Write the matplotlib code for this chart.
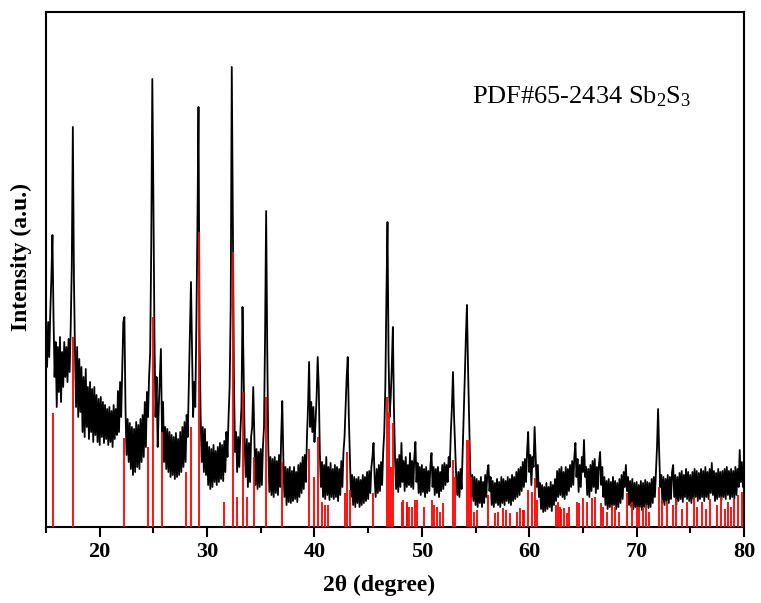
import numpy as np
import matplotlib
matplotlib.use("Agg")
import matplotlib.pyplot as plt
from matplotlib.ticker import MultipleLocator

# ---- data (intensity in arbitrary units) ----
two_theta_start = 15.0
two_theta_step = 0.1

intensity = [
    # 15.0 - 15.9
    195, 160, 205, 170, 215, 250, 292, 210, 150, 185,
    # 16
    120, 180, 135, 190, 125, 175, 140, 185, 150, 180,
    # 17
    145, 188, 155, 200, 260, 400, 250, 175, 120, 180,
    # 18
    110, 168, 115, 160, 95, 150, 90, 158, 100, 140,
    # 19
    88, 145, 95, 138, 85, 140, 92, 132, 85, 128,
    # 20
    82, 130, 90, 125, 84, 122, 88, 118, 82, 120,
    # 21
    85, 116, 80, 122, 88, 118, 92, 136, 95, 145,
    # 22
    110, 160, 205, 210, 120, 72, 108, 65, 104, 58,
    # 23
    100, 52, 98, 55, 105, 60, 102, 58, 108, 65,
    # 24
    112, 70, 125, 80, 135, 110, 150, 175, 280, 448,
    # 25
    330, 190, 110, 150, 80, 120, 150, 178, 95, 125,
    # 26
    65, 100, 58, 98, 55, 95, 50, 92, 52, 90,
    # 27
    48, 94, 50, 88, 52, 95, 55, 100, 60, 105,
    # 28
    65, 112, 90, 140, 190, 245, 175, 110, 145, 120,
    # 29
    200, 300, 420, 190, 110, 65, 100, 55, 98, 52,
    # 30
    85, 42, 80, 38, 78, 40, 82, 45, 76, 42,
    # 31
    80, 45, 84, 48, 82, 46, 86, 55, 95, 70,
    # 32
    110, 140, 220, 460, 300, 150, 75, 95, 55, 90,
    # 33
    60, 95, 120, 220, 160, 85, 50, 88, 40, 84,
    # 34
    45, 90, 100, 140, 90, 42, 78, 38, 75, 40,
    # 35
    78, 42, 80, 100, 190, 316, 180, 80, 35, 70,
    # 36
    32, 68, 30, 70, 34, 66, 32, 72, 40, 90,
    # 37
    126, 70, 30, 60, 22, 58, 25, 60, 24, 56,
    # 38
    26, 60, 28, 55, 25, 62, 30, 64, 34, 70,
    # 39
    38, 72, 45, 90, 120, 165, 100, 125, 95, 120,
    # 40
    85, 105, 130, 170, 140, 75, 40, 65, 30, 62,
    # 41
    28, 70, 32, 60, 27, 64, 30, 58, 28, 62,
    # 42
    30, 60, 26, 58, 32, 66, 40, 75, 90, 120,
    # 43
    150, 170, 110, 70, 30, 52, 22, 50, 20, 48,
    # 44
    24, 50, 20, 47, 22, 52, 24, 50, 26, 55,
    # 45
    28, 56, 34, 60, 70, 84, 50, 30, 58, 34,
    # 46
    62, 36, 65, 42, 75, 95, 140, 230, 305, 170,
    # 47
    110, 130, 160, 200, 120, 70, 38, 68, 35, 72,
    # 48
    40, 84, 45, 66, 36, 70, 40, 62, 42, 74,
    # 49
    40, 66, 38, 70, 85, 45, 64, 34, 60, 32,
    # 50
    62, 35, 58, 30, 60, 34, 56, 36, 62, 74,
    # 51
    40, 60, 32, 58, 34, 60, 30, 55, 36, 62,
    # 52
    38, 64, 42, 62, 45, 70, 60, 95, 120, 155,
    # 53
    110, 80, 50, 32, 55, 30, 58, 38, 75, 110,
    # 54
    150, 190, 222, 160, 110, 60, 30, 52, 26, 50,
    # 55
    22, 48, 20, 46, 24, 50, 20, 45, 24, 52,
    # 56
    30, 55, 62, 36, 50, 22, 46, 20, 44, 24,
    # 57
    48, 22, 45, 20, 50, 24, 48, 22, 46, 26,
    # 58
    50, 24, 48, 22, 52, 26, 50, 28, 55, 30,
    # 59
    58, 32, 60, 36, 65, 40, 68, 45, 75, 95,
    # 60
    55, 72, 42, 70, 60, 100, 70, 40, 62, 30,
    # 61
    44, 18, 42, 15, 40, 16, 44, 18, 40, 20,
    # 62
    45, 16, 42, 22, 48, 26, 56, 30, 58, 32,
    # 63
    60, 30, 55, 28, 60, 32, 58, 36, 62, 40,
    # 64
    66, 42, 70, 84, 50, 68, 35, 62, 40, 70,
    # 65
    55, 87, 50, 60, 32, 58, 30, 62, 36, 66,
    # 66
    40, 68, 34, 60, 38, 64, 75, 42, 60, 30,
    # 67
    50, 22, 46, 18, 48, 20, 45, 18, 50, 22,
    # 68
    46, 18, 44, 20, 48, 24, 52, 28, 55, 40,
    # 69
    62, 36, 50, 22, 46, 20, 48, 18, 44, 20,
    # 70
    45, 18, 42, 20, 46, 17, 44, 20, 47, 22,
    # 71
    45, 19, 44, 20, 48, 24, 50, 30, 55, 80,
    # 72
    118, 75, 40, 52, 24, 50, 22, 48, 26, 52,
    # 73
    24, 50, 28, 55, 62, 30, 52, 22, 50, 26,
    # 74
    54, 28, 56, 25, 52, 30, 58, 28, 55, 26,
    # 75
    52, 24, 55, 28, 58, 30, 56, 26, 54, 28,
    # 76
    58, 30, 56, 26, 60, 30, 55, 28, 58, 34,
    # 77
    64, 32, 56, 26, 54, 28, 58, 30, 55, 27,
    # 78
    56, 30, 58, 28, 60, 32, 56, 28, 58, 30,
    # 79
    56, 28, 60, 32, 58, 40, 77, 45, 65, 40,
    # 80.0
    60,
]

# reference pattern PDF#65-2434 (positions and relative heights)
ref_pos = [15.62, 17.49, 22.26, 24.47, 24.96, 25.77, 28.04, 28.53, 29.25,
           31.62, 32.38, 32.81, 33.37, 33.68, 34.39, 35.52, 37.00,
           39.52, 39.96, 40.36, 40.70, 41.00, 41.30, 42.84, 43.06, 43.30,
           45.48, 46.72, 46.94, 47.13, 47.34, 48.11, 48.27, 48.58, 48.65,
           48.83, 49.05, 49.36, 49.52, 50.20, 50.92, 51.13, 51.38, 51.69,
           52.00, 52.93, 53.09, 54.18, 54.37, 54.55, 54.86, 55.17, 56.19,
           56.82, 57.13, 57.60, 57.80, 58.20, 58.90, 59.14, 59.40, 59.55,
           59.92, 60.23, 60.54, 60.70, 62.50, 62.70, 62.85, 63.00, 63.24,
           63.50, 63.73, 64.48, 64.66, 65.03, 65.35, 65.88, 66.13, 66.66,
           66.84, 67.22, 67.74, 67.99, 68.39, 69.08, 69.61, 70.00, 70.25,
           70.62, 70.87, 71.18, 72.05, 72.33, 72.80, 73.40, 73.70, 74.20,
           74.70, 75.30, 75.60, 76.10, 76.50, 76.80, 77.50, 77.90, 78.20,
           78.50, 78.80, 79.10, 79.40, 79.80]
ref_int = [114, 190, 89, 80, 210, 95, 55, 100, 295,
           25, 275, 30, 135, 30, 70, 130, 65,
           78, 50, 90, 25, 22, 22, 34, 75, 37,
           34, 130, 115, 60, 104, 25, 27, 25, 22,
           20, 20, 27, 27, 20, 27, 22, 20, 15,
           24, 67, 50, 87, 87, 50, 15, 17, 32,
           14, 15, 19, 17, 14, 15, 19, 17, 17,
           37, 35, 49, 27, 22, 25, 20, 18, 19,
           14, 20, 25, 24, 29, 25, 29, 30, 24,
           20, 15, 22, 20, 15, 34, 25, 20, 20,
           19, 22, 15, 40, 27, 25, 22, 28, 18,
           25, 30, 20, 25, 18, 28, 22, 30, 18,
           25, 20, 28, 32, 35]

x_ticks = [20, 30, 40, 50, 60, 70, 80]
label_text = "PDF#65-2434 Sb$_2$S$_3$"

# ---- figure ----
plt.rcParams['font.family'] = ['Liberation Serif', 'DejaVu Serif']
plt.rcParams['mathtext.fontset'] = 'custom'
plt.rcParams['mathtext.rm'] = 'Liberation Serif'
plt.rcParams['mathtext.it'] = 'Liberation Serif:italic'

two_theta = two_theta_start + two_theta_step * np.arange(len(intensity))

fig = plt.figure(figsize=(7.61, 6.03), dpi=100)
ax = fig.add_axes([46 / 761, 76 / 603, (744 - 46) / 761, (527 - 12) / 603])

ax.plot(two_theta, intensity, color='black', lw=1.3, zorder=2)
ax.vlines(ref_pos, 0, ref_int, color='#ff0000', lw=1.3, zorder=3)

ax.set_xlim(15, 80)
ax.set_ylim(0, 515)
ax.set_xticks(x_ticks)
ax.xaxis.set_minor_locator(MultipleLocator(5))
ax.set_yticks([])
ax.tick_params(axis='x', which='major', direction='out', length=7, width=1.5,
               labelsize=16, pad=4)
ax.tick_params(axis='x', which='minor', direction='out', length=4, width=1.5)
for lab in ax.get_xticklabels():
    lab.set_fontweight('bold')
for s in ax.spines.values():
    s.set_linewidth(1.5)

ax.set_xlabel("2θ (degree)", fontsize=17, fontweight='bold')
ax.set_ylabel("Intensity (a.u.)", fontsize=17, fontweight='bold')
ax.xaxis.set_label_coords(0.477, -0.093)
ax.yaxis.set_label_coords(-0.02, 0.524)

ax.text(0.61, 0.835, label_text, transform=ax.transAxes, fontsize=19,
        ha='left', va='center')

fig.savefig("out.png", dpi=100)
